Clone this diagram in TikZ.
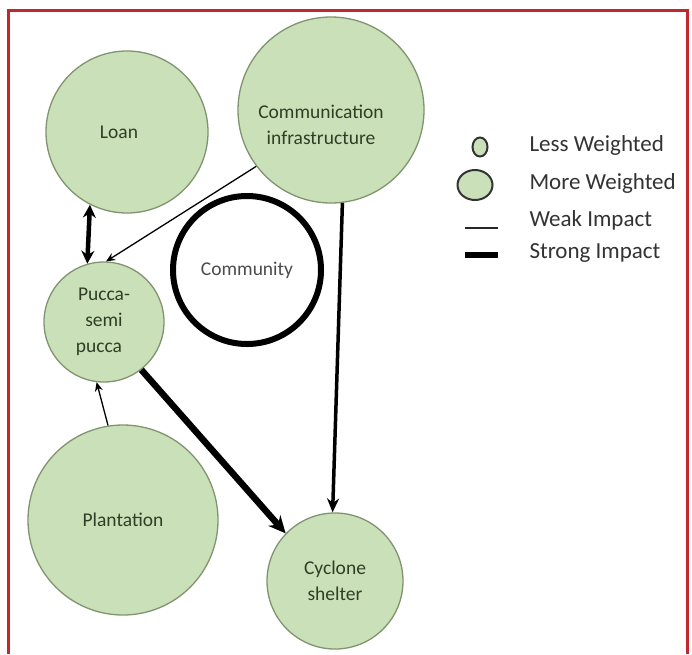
\documentclass[tikz,border=0pt]{standalone}
\usepackage{fontspec}
\setmainfont{Carlito}
\usepackage{tikz}
\usetikzlibrary{positioning, shapes.geometric, arrows.meta}
\definecolor{leafFill}{RGB}{202,224,184}
\definecolor{leafLine}{RGB}{128,148,112}
\definecolor{leafText}{RGB}{48,62,38}
\definecolor{frameRed}{RGB}{196,38,48}
\tikzstyle{factor} = [circle, draw=leafLine, fill=leafFill, line width=1.3pt,
                      align=center, text=leafText, inner sep=0pt]
\tikzstyle{weak}   = [-{Stealth[length=9pt, width=8pt]}, line width=1.3pt]

\begin{document}
\begin{tikzpicture}[x=1pt, y=-1pt, font=\fontsize{19.5}{26}\selectfont,
  strong/.style={-{Stealth[length=17pt, width=16pt]}, line width=6.5pt},
  mid/.style={-{Stealth[length=14pt, width=12pt]}, line width=3.5pt},
  both/.style={{Stealth[length=13pt, width=13pt]}-{Stealth[length=13pt, width=13pt]}, line width=4.5pt},
  key/.style={anchor=west, text=black!80, font=\fontsize{23}{27}\selectfont}]
\useasboundingbox (0,0) rectangle (692,654);
\fill[white] (0,0) rectangle (692,654);
% frame
\draw[frameRed, line width=3pt] (8,654) -- (8,10) -- (687,10) -- (687,654);
% factors
\node[factor, minimum size=162pt] (loan) at (127,132) {\hspace*{-16pt}Loan};
\node[factor, minimum size=186pt,
      label={[name=commT, align=center, text=leafText, yshift=-15pt, xshift=-10pt]center:Communication\\infrastructure}]
      (comm) at (331,110) {};
\node[circle, draw=black, line width=6pt, minimum size=148pt, text=black!70] (cmty) at (247,270) {Community};
\node[factor, minimum size=120pt] (pucca) at (104,322) {Pucca-\\semi\\pucca\hspace*{10pt}};
\node[factor, minimum size=190pt] (plant) at (123,520) {Plantation};
\node[factor, minimum size=136pt] (shelter) at (335,581) {Cyclone\\shelter};
% impacts
\draw[both] (loan.243) -- (pucca.106);
\draw[weak] (comm.217) -- (pucca.88);
\draw[weak] (plant.99) -- (pucca.263);
\draw[strong] (pucca.308) -- (shelter.136);
\draw[mid] (comm.277) -- (shelter.92);
% legend
\node[ellipse, draw=black!80, fill=leafFill, line width=2pt, minimum width=15pt, minimum height=19pt, inner sep=0pt] (less) at (480,147) {};
\node[ellipse, draw=black!80, fill=leafFill, line width=2pt, minimum width=35pt, minimum height=30pt, inner sep=0pt] (more) at (475,185) {};
\coordinate (wa) at (465,228); \coordinate (wb) at (498,228);
\coordinate (sa) at (465,255); \coordinate (sb) at (498,255);
\draw[line width=1.5pt, black!85] (wa) -- (wb);
\draw[line width=5.5pt] (sa) -- (sb);
\node[key] (lessT) at (526,145) {Less Weighted};
\node[key] (moreT) at (526,183) {More Weighted};
\node[key] (weakT) at (526,220) {Weak Impact};
\node[key] (strongT) at (526,253) {Strong Impact};
\end{tikzpicture}
\end{document}
